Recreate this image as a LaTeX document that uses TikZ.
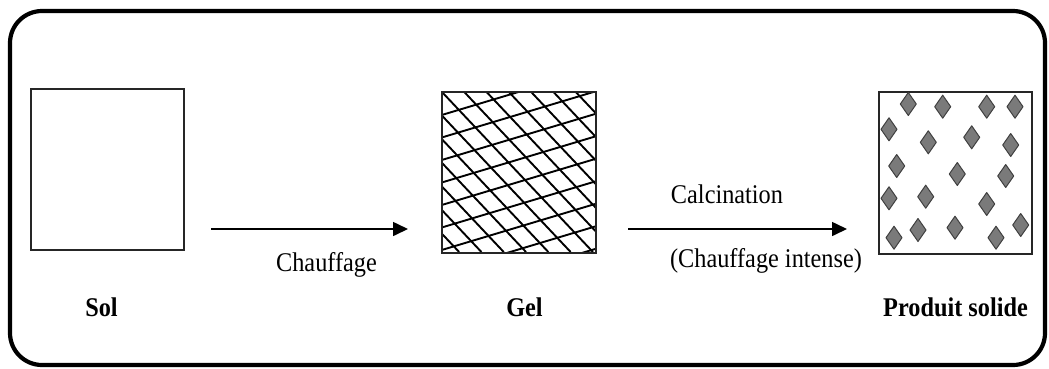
\documentclass[tikz,border=0pt]{standalone}
\usepackage{fontspec}
\setmainfont{Liberation Serif}[FakeStretch=0.9]
\usetikzlibrary{arrows.meta}
\begin{document}
\begin{tikzpicture}[x=1pt,y=-1pt,
  frame/.style={line width=4.2pt, rounded corners=32pt},
  panel/.style={draw=black!85, line width=1.5pt, inner sep=0pt, outer sep=0pt},
  flow/.style={line width=1.6pt, -{Triangle[length=15pt,width=14pt]}},
  lbl/.style={font=\fontsize{27}{30}\selectfont, anchor=base, inner sep=0pt},
  title/.style={lbl, font=\fontsize{27}{30}\selectfont\bfseries},
  hatch/.style={line width=1.9pt, black},
  grain/.style={fill=black!52, draw=black!75, line width=1pt, line join=round}]

% page extent
\useasboundingbox (0,0) rectangle (1049,368);

% outer rounded frame
\draw[frame] (10,11) rectangle (1045,365);

% the three stages
\node[panel, minimum width=153pt, minimum height=161pt] (sol) at (107.5,169.5) {};
\node[panel, line width=2.2pt, minimum width=154pt, minimum height=161pt] (gel) at (518.7,172.3) {};
\node[panel, minimum width=153pt, minimum height=162pt] (prod) at (955.5,173) {};

% gel network: two families of crossing lines
\begin{scope}
  \clip (441.7,91.3) rectangle (595.7,253.3);
  \foreach \k in {-8,...,7} {
    \draw[hatch] ({441.7+22.3*\k},91.7) -- ({441.7+22.3*\k+160.3/1.06},252);
  }
  \foreach \k in {0,...,9} {
    \draw[hatch] (441.7,{92.5+22.5*\k}) -- (595.7,{92.5+22.5*\k-46.2});
  }
\end{scope}
\node[panel, line width=2.2pt, minimum width=154pt, minimum height=161pt] at (gel) {};

% solid grains
\foreach \x/\y in {908.3/104, 942.7/106.7, 986.7/106.7, 1015/106.7,
                   889/129.3, 928.3/142.3, 971.7/137.3, 1010.7/145,
                   896.7/166, 957.3/174, 1005.7/176,
                   889/198.3, 925.7/196.7, 986.7/204,
                   894/237.7, 918/230, 955/227.7, 996/237.7, 1020.7/225} {
  \filldraw[grain] (\x,\y-11.5) -- (\x+8,\y) -- (\x,\y+11.5) -- (\x-8,\y) -- cycle;
}

% process arrows
\coordinate (a1s) at (211,229);
\coordinate (a1e) at (408,229);
\coordinate (a2s) at (628,229);
\coordinate (a2e) at (847,229);
\draw[flow] (a1s) -- (a1e);
\draw[flow] (a2s) -- (a2e);

% labels
\node[lbl] (lchauf) at (326.5,271) {Chauffage};
\node[lbl] (lcalc) at (727,203) {Calcination};
\node[lbl] (lint) at (766,267) {(Chauffage intense)};
\node[title] (tsol) at (101.5,316) {Sol};
\node[title] (tgel) at (524.5,316) {Gel};
\node[title] (tprod) at (955.5,316) {Produit solide};
\end{tikzpicture}
\end{document}
